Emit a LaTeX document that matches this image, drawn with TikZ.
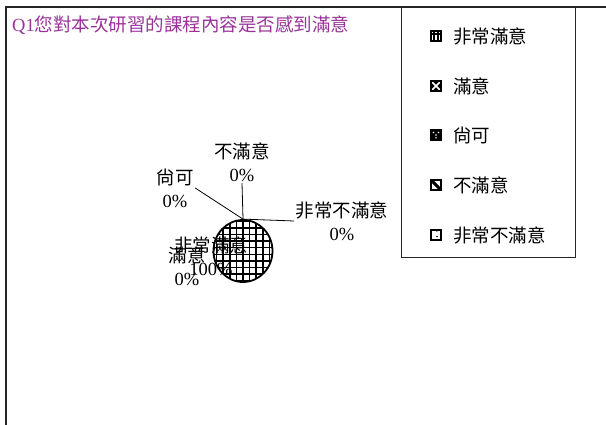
\documentclass[tikz,border=0pt]{standalone}
\usepackage{fontspec}
\setmainfont{Liberation Serif}
\newfontfamily\cjk{Noto Sans CJK TC}
\usetikzlibrary{shapes.geometric}
\definecolor{titlepurple}{RGB}{153,51,153}
\tikzset{
  lab/.style={align=center,inner sep=1.5pt,font=\fontsize{18.5}{23}\selectfont},
  legtext/.style={anchor=west,inner sep=0pt,font=\fontsize{18.5}{23}\selectfont\cjk},
  legmark/.style={draw,line width=1.5pt,minimum size=10pt,inner sep=0pt},
  mkvery/.style={legmark,path picture={
      \draw[line width=1.2pt] ([yshift=-3pt]path picture bounding box.north west) -- ([yshift=-3pt]path picture bounding box.north east);
      \draw[line width=1.2pt] ([xshift=3pt]path picture bounding box.north west) -- ([xshift=3pt]path picture bounding box.south west);
      \draw[line width=1.2pt] ([xshift=-3pt]path picture bounding box.north east) -- ([xshift=-3pt]path picture bounding box.south east);}},
  mkgood/.style={legmark,fill=black,path picture={
      \draw[white,line width=1.6pt] (path picture bounding box.north west) -- (path picture bounding box.south east);
      \draw[white,line width=1.6pt] (path picture bounding box.north east) -- (path picture bounding box.south west);}},
  mkfair/.style={legmark,fill=black,path picture={
      \fill[white] (path picture bounding box.center) circle (0.9pt);
      \fill[white] ([xshift=2.5pt,yshift=2.5pt]path picture bounding box.center) circle (0.8pt);
      \fill[white] ([xshift=-2.5pt,yshift=2.5pt]path picture bounding box.center) circle (0.8pt);
      \fill[white] ([yshift=-2.8pt]path picture bounding box.center) circle (0.8pt);}},
  mkbad/.style={legmark,path picture={
      \draw[line width=3pt] (path picture bounding box.north west) -- (path picture bounding box.south east);}},
  mkworst/.style={legmark,path picture={
      \fill ([xshift=-1.8pt,yshift=1.8pt]path picture bounding box.north east) circle (1pt);
      \fill ([xshift=-4.2pt,yshift=-1pt]path picture bounding box.north east) circle (0.8pt);
      \fill ([xshift=1pt,yshift=-1.5pt]path picture bounding box.center) circle (0.8pt);}},
  pie/.style={ellipse,draw,line width=1.8pt,minimum width=59pt,minimum height=62pt,inner sep=0pt,
    path picture={
      \foreach \k in {-5,...,5}{
        \draw[line width=1.5pt] ([xshift=\k*6.6pt]path picture bounding box.north) -- ([xshift=\k*6.6pt]path picture bounding box.south);
        \draw[line width=1.5pt] ([yshift=(\k+0.5)*6.6pt]path picture bounding box.west) -- ([yshift=(\k+0.5)*6.6pt]path picture bounding box.east);
      }}},
  leader/.style={line width=0.8pt}
}
\begin{document}
\begin{tikzpicture}[x=1pt,y=-1pt]
  \useasboundingbox (0,0) rectangle (606,425);
  % frame of the chart area
  \draw[black!85,line width=2pt] (6,425) -- (6,7) -- (606,7);
  \node[anchor=west,inner sep=0pt,titlepurple,font=\fontsize{18.5}{23}\selectfont]
    (title) at (12,25) {Q1{\cjk 您對本次研習的課程內容是否感到滿意}};
  % the pie (only one slice, 100%)
  \node[pie]      (pie)        at (243,251) {};
  \node[lab]      (bumanyi)    at (242,162) {{\cjk 不滿意}\\0\%};
  \node[lab]      (shangke)    at (175,188) {{\cjk 尙可}\\0\%};
  \node[lab]      (feichangbu) at (342,221) {{\cjk 非常不滿意}\\0\%};
  \node[lab]      (feichang)   at (211,256) {{\cjk 非常滿意}\\100\%};
  \node[lab]      (manyi)      at (187,266) {{\cjk 滿意}\\0\%};
  \draw[leader] (pie.north) -- (bumanyi.south);
  \draw[leader] (pie.north) -- (shangke.east);
  \draw[leader] (pie.north) -- (feichangbu.west);
  % legend box on the right
  \draw[black!85,line width=1pt] (401,7) rectangle (575,258);
  \node[mkvery]   (m1) at (436,36)  {};
  \node[mkgood]   (m2) at (436,86)  {};
  \node[mkfair]   (m3) at (436,135) {};
  \node[mkbad]    (m4) at (436,185) {};
  \node[mkworst]  (m5) at (436,235) {};
  \node[legtext]  (t1) at (453,36)  {非常滿意};
  \node[legtext]  (t2) at (453,86)  {滿意};
  \node[legtext]  (t3) at (453,135) {尙可};
  \node[legtext]  (t4) at (453,185) {不滿意};
  \node[legtext]  (t5) at (453,235) {非常不滿意};
\end{tikzpicture}
\end{document}
